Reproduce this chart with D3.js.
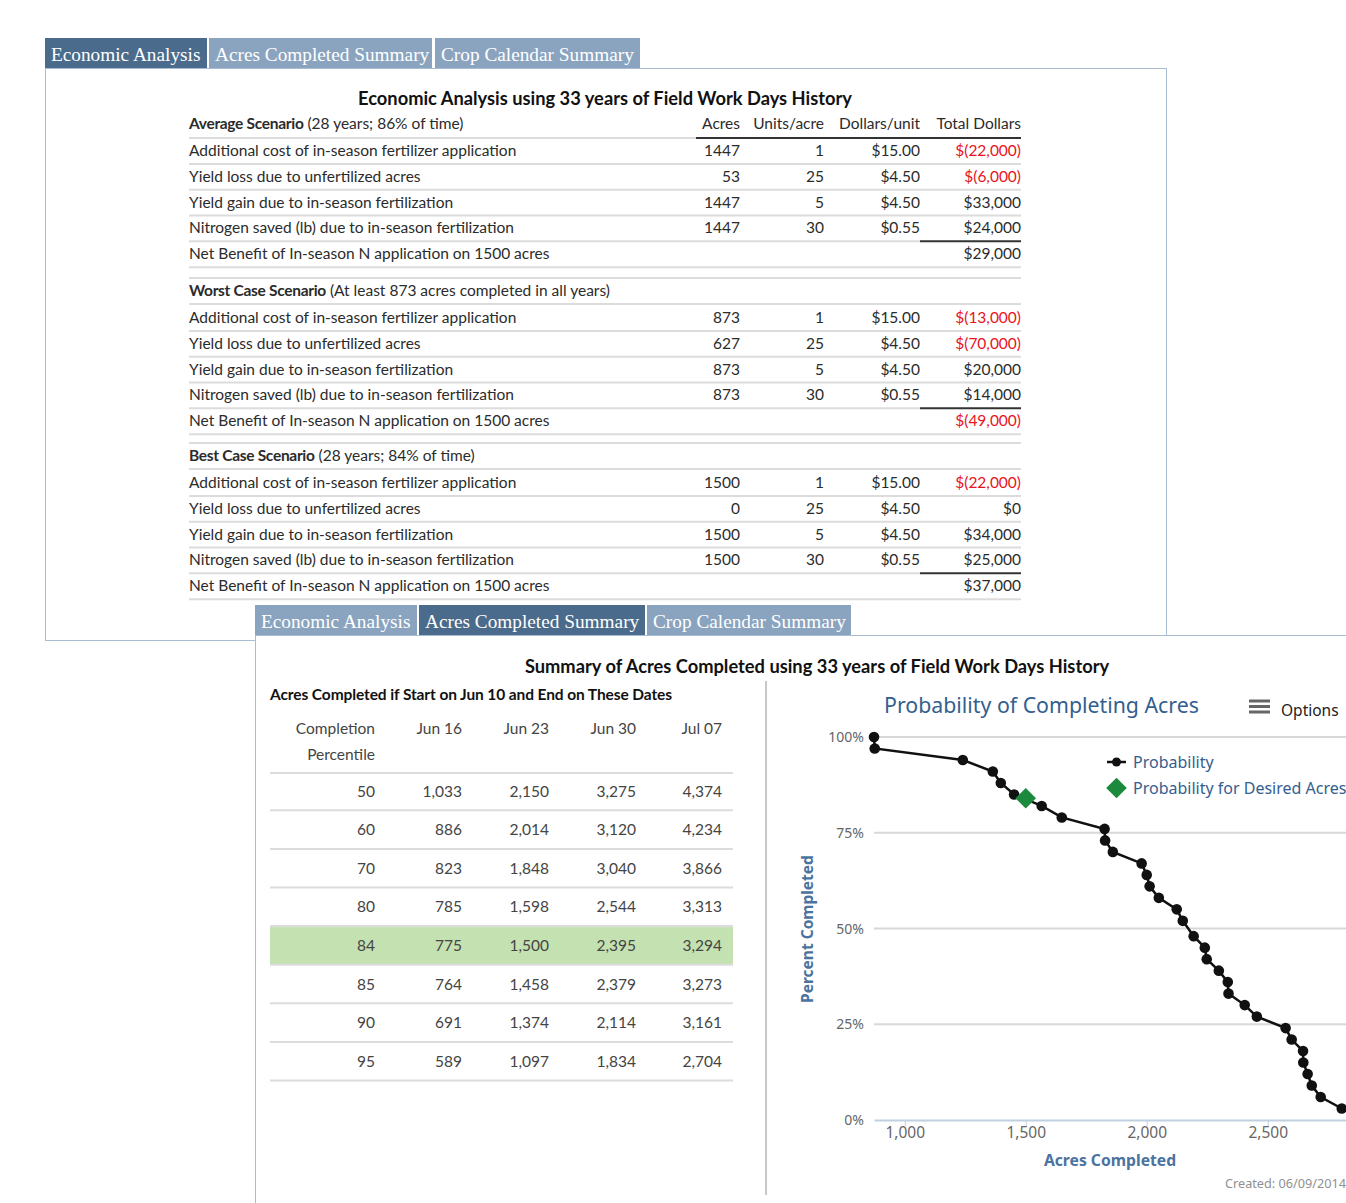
<!DOCTYPE html>
<html>
<head>
<meta charset="utf-8">
<script src="https://cdn.jsdelivr.net/npm/d3@7"></script>
<style>
  html, body { margin: 0; padding: 0; background: #fff; overflow: hidden; }
  svg { display: block; }
</style>
</head>
<body>
<svg id="page" width="1346" height="1203"></svg>
<script>
/*
  economic analysis tables + acres completed summary with probability chart
*/

// ---- data ----
var tabNames = ["Economic Analysis", "Acres Completed Summary", "Crop Calendar Summary"];

var scenarioTitles = ["Average Scenario", "Worst Case Scenario", "Best Case Scenario"];
var scenarioNotes = ["(28 years; 86% of time)", "(At least 873 acres completed in all years)", "(28 years; 84% of time)"];
var costItems = [
  "Additional cost of in-season fertilizer application",
  "Yield loss due to unfertilized acres",
  "Yield gain due to in-season fertilization",
  "Nitrogen saved (lb) due to in-season fertilization"
];
var netLabel = "Net Benefit of In-season N application on 1500 acres";
var columnHeads = ["Acres", "Units/acre", "Dollars/unit", "Total Dollars"];
var scenarioAcres = [[1447, 53, 1447, 1447], [873, 627, 873, 873], [1500, 0, 1500, 1500]];
var unitsPerAcre = [1, 25, 5, 30];
var dollarsPerUnit = ["$15.00", "$4.50", "$4.50", "$0.55"];
var totalDollars = [[-22000, -6000, 33000, 24000], [-13000, -70000, 20000, 14000], [-22000, 0, 34000, 25000]];
var netBenefit = [29000, -49000, 37000];

var percentiles = [50, 60, 70, 80, 84, 85, 90, 95];
var endDates = ["Jun 16", "Jun 23", "Jun 30", "Jul 07"];
var acresByDate = [
  [1033, 2150, 3275, 4374],
  [886, 2014, 3120, 4234],
  [823, 1848, 3040, 3866],
  [785, 1598, 2544, 3313],
  [775, 1500, 2395, 3294],
  [764, 1458, 2379, 3273],
  [691, 1374, 2114, 3161],
  [589, 1097, 1834, 2704]
];
var highlightPercentile = 84;

var probAcres = [873, 876, 1240, 1364, 1397, 1452, 1566, 1649, 1826, 1828, 1860, 1979, 2000, 2012, 2050, 2124,
  2149, 2194, 2240, 2248, 2298, 2335, 2338, 2405, 2455, 2574, 2599, 2646, 2647, 2665, 2682, 2719, 2806];
var probPercent = [100, 97, 94, 91, 88, 85, 82, 79, 76, 73, 70, 67, 64, 61, 58, 55,
  52, 48, 45, 42, 39, 36, 33, 30, 27, 24, 21, 18, 15, 12, 9, 6, 3];
var desiredAcres = [1500];
var desiredPercent = [84];
var yTicks = [0, 25, 50, 75, 100];
var xTicks = [1000, 1500, 2000, 2500];

// ---- helpers ----
var svg = d3.select("#page");
var LATO = "Lato, 'Open Sans', sans-serif";
var SANS = "'Noto Sans', 'Open Sans', sans-serif";
var borderCol = "#a9bdd2";
var lineCol = "#dcdcdc";
var red = "#e8141c";
var ink = "#2b2b2b";
var FS = 15.5; // table font size

var fmtComma = d3.format(",");
function money(v) {
  if (v < 0) return "$(" + fmtComma(-v) + ")";
  return "$" + fmtComma(v);
}

function hline(g, x1, x2, y, col, w) {
  g.append("line").attr("x1", x1).attr("x2", x2).attr("y1", y).attr("y2", y)
    .attr("stroke", col).attr("stroke-width", w || 1);
}

function text(g, x, y, s, opts) {
  opts = opts || {};
  return g.append("text").attr("x", x).attr("y", y).text(s)
    .attr("font-family", opts.family || LATO)
    .attr("font-size", opts.size || FS)
    .attr("font-weight", opts.weight || "normal")
    .attr("fill", opts.fill || ink)
    .attr("text-anchor", opts.anchor || "start");
}

// tabs; edges are [left, right] of each tab
function drawTabs(g, edges, y0, active) {
  edges.forEach(function (e, i) {
    g.append("rect").attr("x", e[0]).attr("y", y0).attr("width", e[1] - e[0]).attr("height", 30)
      .attr("fill", i == active ? "#4a6b8b" : "#8aa4c0");
    text(g, e[0] + 6, y0 + 23, tabNames[i], {family: "'Liberation Serif', serif", size: 19.3, fill: "#fff"});
  });
}

// ---- top panel: economic analysis ----
var topPanel = svg.append("g");
topPanel.append("rect").attr("x", 45.5).attr("y", 68.5).attr("width", 1121).attr("height", 572)
  .attr("fill", "#fff").attr("stroke", borderCol);
drawTabs(topPanel, [[45, 207], [209, 432], [435, 640]], 38, 0);

text(topPanel, 605, 104.5, "Economic Analysis using 33 years of Field Work Days History", {size: 18.3, weight: "bold", anchor: "middle", fill: "#111"});

var colX = [740, 824, 920, 1021];
var tLeft = 189, tRight = 1021;
var sectionTops = [124, 291, 456];
var rowStep = 25.8;

scenarioTitles.forEach(function (title, s) {
  var y0 = sectionTops[s];
  var head = text(topPanel, tLeft, y0 + 5, "");
  head.append("tspan").attr("font-weight", "bold").attr("letter-spacing", -0.3).text(title);
  head.append("tspan").text(" " + scenarioNotes[s]);

  if (s == 0) {
    columnHeads.forEach(function (h, c) {
      text(topPanel, colX[c], y0 + 5, h, {anchor: "end"});
    });
    hline(topPanel, tLeft, 696, y0 + 14, lineCol, 2);
    hline(topPanel, 696, tRight, y0 + 14, "#333", 2);
  } else {
    hline(topPanel, tLeft, tRight, y0 - 13, lineCol, 2);
    hline(topPanel, tLeft, tRight, y0 + 13, lineCol, 2);
  }

  costItems.forEach(function (lab, r) {
    var y = y0 + 27 + r * rowStep;
    text(topPanel, tLeft, y + 5, lab);
    text(topPanel, colX[0], y + 5, scenarioAcres[s][r], {anchor: "end"});
    text(topPanel, colX[1], y + 5, unitsPerAcre[r], {anchor: "end"});
    text(topPanel, colX[2], y + 5, dollarsPerUnit[r], {anchor: "end"});
    var v = totalDollars[s][r];
    text(topPanel, colX[3], y + 5, money(v), {anchor: "end", fill: v < 0 ? red : ink});
    if (r < 3) hline(topPanel, tLeft, tRight, y + 13, lineCol, 2);
  });
  var yn = y0 + 27 + 4 * rowStep;
  hline(topPanel, tLeft, 920, yn - 13, lineCol, 2);
  hline(topPanel, 920, tRight, yn - 13, "#333", 2);
  text(topPanel, tLeft, yn + 5, netLabel);
  text(topPanel, colX[3], yn + 5, money(netBenefit[s]), {anchor: "end", fill: netBenefit[s] < 0 ? red : ink});
  hline(topPanel, tLeft, tRight, yn + 13, lineCol, 2);
});

// ---- bottom panel: acres completed summary ----
var bot = svg.append("g");
bot.append("rect").attr("x", 255.5).attr("y", 635.5).attr("width", 1200).attr("height", 700)
  .attr("fill", "#fff").attr("stroke", borderCol);
drawTabs(bot, [[255, 417], [419, 645], [647, 851]], 605, 1);

text(bot, 817, 672.5, "Summary of Acres Completed using 33 years of Field Work Days History", {size: 18.3, weight: "bold", anchor: "middle", fill: "#111"});
text(bot, 270, 700, "Acres Completed if Start on Jun 10 and End on These Dates", {size: 15.5, weight: "bold", fill: "#111"})
  .attr("letter-spacing", -0.1);

bot.append("line").attr("x1", 766).attr("x2", 766).attr("y1", 681).attr("y2", 1195)
  .attr("stroke", "#c8c8c8").attr("stroke-width", 2);

// percentile table
var pColX = [375, 462, 549, 636, 722];
var pLeft = 270, pRight = 733;
text(bot, pColX[0], 734, "Completion", {anchor: "end", fill: "#444"});
text(bot, pColX[0], 760, "Percentile", {anchor: "end", fill: "#444"});
endDates.forEach(function (d, i) {
  text(bot, pColX[i + 1], 734, d, {anchor: "end", fill: "#444"});
});
hline(bot, pLeft, pRight, 773, lineCol, 2);

var pRowStep = 38.6;
percentiles.forEach(function (p, r) {
  var yc = 791 + r * pRowStep;
  if (p == highlightPercentile) {
    bot.append("rect").attr("x", pLeft).attr("y", yc - 18.3).attr("width", pRight - pLeft).attr("height", pRowStep - 1)
      .attr("fill", "#c4e1b1");
  }
  text(bot, pColX[0], yc + 5.5, p, {anchor: "end", fill: "#444"});
  acresByDate[r].forEach(function (v, c) {
    text(bot, pColX[c + 1], yc + 5.5, fmtComma(v), {anchor: "end", fill: "#444"});
  });
  hline(bot, pLeft, pRight, yc + 19.3, lineCol, 2);
});

// ---- probability chart ----
var chart = bot.append("g");
var x = d3.scaleLinear().domain([873, 3000]).range([874, 1388.7]);
var y = d3.scaleLinear().domain([0, 100]).range([1120, 737]);
var titleBlue = "#33608f";
var axisBlue = "#4b73a0";

text(chart, 1041.5, 713, "Probability of Completing Acres", {family: SANS, size: 21.3, anchor: "middle", fill: titleBlue});

// options button
[701, 706.5, 712].forEach(function (yy) {
  hline(chart, 1249, 1270, yy, "#666", 3);
});
text(chart, 1281, 716, "Options", {family: SANS, size: 15.5, fill: "#222"});

// grid + y labels
chart.append("g").selectAll("line").data(yTicks.filter(function (t) { return t > 0; })).enter().append("line")
  .attr("x1", 874).attr("x2", 1400).attr("y1", function (d) { return y(d); }).attr("y2", function (d) { return y(d); })
  .attr("stroke", "#d8d8d8").attr("stroke-width", 2);

chart.append("g").selectAll("text").data(yTicks).enter().append("text")
  .attr("x", 864).attr("y", function (d) { return y(d) + 5; })
  .attr("text-anchor", "end").attr("font-family", SANS).attr("font-size", 14).attr("fill", "#666")
  .text(function (d) { return d + "%"; });

// x axis
var xAxis = d3.axisBottom(x).tickValues(xTicks).tickFormat(d3.format(",")).tickSize(6).tickSizeOuter(0);
var gx = chart.append("g").attr("transform", "translate(0,1120)").call(xAxis);
gx.select(".domain").attr("stroke", "#c0d0e0").attr("stroke-width", 2);
gx.selectAll(".tick line").attr("stroke", "#c0d0e0");
gx.selectAll(".tick text").attr("font-family", SANS).attr("font-size", 15.5).attr("fill", "#666")
  .attr("y", 2).attr("dy", "1em");

text(chart, 1110, 1166, "Acres Completed", {family: SANS, size: 15.7, weight: "bold", anchor: "middle", fill: axisBlue});
text(chart, 0, 0, "Percent Completed", {family: SANS, size: 15.5, weight: "bold", anchor: "middle", fill: axisBlue})
  .attr("transform", "translate(813,929) rotate(-90)");

// series
var pts = probAcres.map(function (a, i) { return [a, probPercent[i]]; });
var line = d3.line().x(function (d) { return x(d[0]); }).y(function (d) { return y(d[1]); });
chart.append("path").datum(pts).attr("d", line).attr("fill", "none").attr("stroke", "#111").attr("stroke-width", 2.5);
chart.append("g").selectAll("circle").data(pts).enter().append("circle")
  .attr("cx", function (d) { return x(d[0]); }).attr("cy", function (d) { return y(d[1]); })
  .attr("r", 5.3).attr("fill", "#111");

var diamond = d3.symbol().type(d3.symbolDiamond2).size(270);
chart.append("g").selectAll("path").data(desiredAcres).enter().append("path")
  .attr("d", diamond)
  .attr("transform", function (d, i) { return "translate(" + x(d) + "," + y(desiredPercent[i]) + ")"; })
  .attr("fill", "#1b8a3c");

// legend
hline(chart, 1107, 1126, 762, "#111", 2.5);
chart.append("circle").attr("cx", 1116.5).attr("cy", 762).attr("r", 4.5).attr("fill", "#111");
text(chart, 1133, 767.5, "Probability", {family: SANS, size: 16, fill: titleBlue});
chart.append("path").attr("d", diamond).attr("transform", "translate(1116.5,788)").attr("fill", "#1b8a3c");
text(chart, 1133, 793.5, "Probability for Desired Acres", {family: SANS, size: 16, fill: titleBlue});

text(chart, 1346, 1188, "Created: 06/09/2014", {family: SANS, size: 12.7, anchor: "end", fill: "#909090"});
</script>
</body>
</html>
